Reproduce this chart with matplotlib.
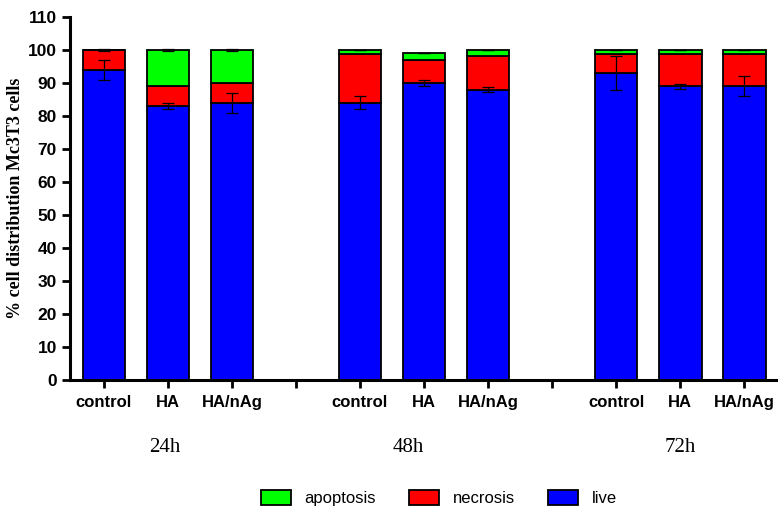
import matplotlib
matplotlib.use("Agg")
import matplotlib.pyplot as plt
import numpy as np

# data
treatments = ["control", "HA", "HA/nAg"]
times = ["24h", "48h", "72h"]
live = [94, 83, 84, 84, 90, 88, 93, 89, 89]
live_err = [3, 1, 3, 2, 1, 0.8, 5, 0.8, 3]
necrosis = [6, 6, 6, 14.8, 7, 10, 5.8, 9.8, 9.8]
apoptosis = [0, 11, 10, 1.2, 2, 2, 1.2, 1.2, 1.2]
apoptosis_err = [0.2, 0.4, 0.4, 0, 0, 0, 0, 0, 0]

plt.rcParams["font.family"] = ["Liberation Sans", "DejaVu Sans"]

fig = plt.figure(figsize=(7.78, 5.11), dpi=100)
ax = fig.add_axes([0.09, 0.256, 0.91, 0.711])

# positions: three bars per group, empty slot between groups
pos = []
for g in range(3):
    for t in range(3):
        pos.append(g * 4 + t)
pos = np.array(pos)

live = np.array(live)
necrosis = np.array(necrosis)
apoptosis = np.array(apoptosis)

w = 0.67
lw = 1.3
ax.bar(pos, live, w, color="#0000ff", edgecolor="black", linewidth=lw, label="live", zorder=2)
ax.bar(pos, necrosis, w, bottom=live, color="#ff0000", edgecolor="black", linewidth=lw,
       label="necrosis", zorder=2)
ax.bar(pos, apoptosis, w, bottom=live + necrosis, color="#00ff00", edgecolor="black",
       linewidth=lw, label="apoptosis", zorder=2)

ax.errorbar(pos, live, yerr=live_err, fmt="none", ecolor="black", elinewidth=0.9,
            capsize=4, capthick=0.9, zorder=3)
ax.errorbar(pos, live + necrosis + apoptosis, yerr=apoptosis_err, fmt="none", ecolor="black",
            elinewidth=0.9, capsize=4, capthick=0.9, zorder=3)

ax.set_ylim(0, 110)
ax.set_xlim(-0.53, 10.53)
ax.set_yticks(np.arange(0, 111, 10))
ax.tick_params(axis="y", labelsize=12.5, width=2, length=6)
for lab in ax.get_yticklabels():
    lab.set_fontweight("bold")

xt = list(range(11))
xl = []
for i in xt:
    if i % 4 == 3:
        xl.append("")
    else:
        xl.append(treatments[i % 4])
ax.set_xticks(xt)
ax.set_xticklabels(xl, fontsize=12, fontweight="bold")
ax.tick_params(axis="x", width=2, length=6, pad=5)

for s in ["top", "right"]:
    ax.spines[s].set_visible(False)
for s in ["left", "bottom"]:
    ax.spines[s].set_linewidth(2.2)

ax.set_ylabel("% cell distribution Mc3T3 cells", family="Liberation Serif", fontweight="bold",
              fontsize=13, labelpad=3)

# time point labels under each group
for x, t in zip([0.95, 4.75, 9.0], times):
    ax.text(x, -20.5, t, family="Liberation Serif", fontsize=15, ha="center", va="center",
            transform=ax.transData)

handles, labels = ax.get_legend_handles_labels()
fig.legend(handles[::-1], labels[::-1], loc="center", bbox_to_anchor=(0.564, 0.025), ncol=3,
           frameon=False, fontsize=12, handlelength=1.8, handleheight=1.0, columnspacing=2.0)

fig.savefig("out.png", dpi=100)
